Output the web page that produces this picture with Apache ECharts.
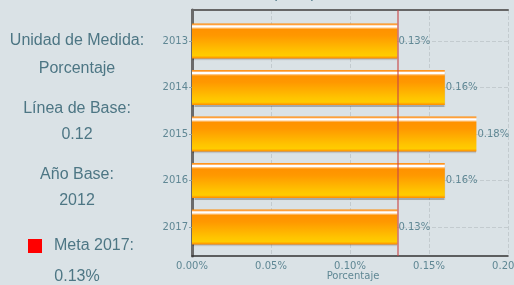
<!DOCTYPE html>
<html>
<head>
<meta charset="utf-8">
<script src="https://cdn.jsdelivr.net/npm/echarts@6/dist/echarts.min.js"></script>
<style>
  html, body { margin: 0; padding: 0; background: #dae2e6; }
  #chart { width: 514px; height: 285px; }
</style>
</head>
<body>
<div id="chart"></div>
<script>
// data
const years = ['2013', '2014', '2015', '2016', '2017'];
const values = [0.13, 0.16, 0.18, 0.16, 0.13];
const meta = 0.13;

const textColor = '#4d7684';
const axisText = '#5f8794';

const chart = echarts.init(document.getElementById('chart'));

const barColor = new echarts.graphic.LinearGradient(0, 0, 0, 1, [
  { offset: 0, color: '#ff8a00' },
  { offset: 0.04, color: '#ffa850' },
  { offset: 0.065, color: '#ffffff' },
  { offset: 0.1, color: '#ffffff' },
  { offset: 0.13, color: '#ffc27a' },
  { offset: 0.17, color: '#ff9200' },
  { offset: 0.35, color: '#ff9800' },
  { offset: 0.8, color: '#ffc400' },
  { offset: 0.92, color: '#ffcc00' },
  { offset: 0.97, color: '#ffa000' },
  { offset: 1, color: '#ff8c00' }
]);

function leftText(text, y, x, align) {
  return {
    type: 'text',
    style: {
      text: text, x: x == null ? 77 : x, y: y,
      fill: textColor,
      font: '16px "Liberation Sans", Arial, sans-serif',
      textAlign: align || 'center',
      textVerticalAlign: 'middle'
    }
  };
}

const options = {
  backgroundColor: '#dae2e6',
  animation: false,
  textStyle: { fontFamily: '"DejaVu Sans", sans-serif' },
  grid: [
    { left: 192, right: 6, top: 10, bottom: 29, outerBoundsMode: 'none', containLabel: false },
    { left: 192, right: 6, top: 17.75, bottom: 34.75, outerBoundsMode: 'none', containLabel: false }
  ],
  xAxis: [
    {
      gridIndex: 0, type: 'value', min: 0, max: 0.2, interval: 0.05,
      axisLine: { show: true, lineStyle: { color: '#333', width: 1.5 } },
      axisTick: { show: false },
      axisLabel: {
        color: axisText, fontSize: 10, margin: 5,
        formatter: v => v.toFixed(2) + '%'
      },
      splitLine: { show: true, lineStyle: { color: '#c3cbcf', type: 'dashed' } }
    },
    {
      gridIndex: 0, type: 'value', min: 0, max: 0.2, position: 'top',
      axisLine: { show: true, lineStyle: { color: '#666', width: 2 } },
      axisTick: { show: false }, axisLabel: { show: false }, splitLine: { show: false }
    },
    {
      gridIndex: 1, type: 'value', min: 0, max: 0.2, show: false
    }
  ],
  yAxis: [
    {
      gridIndex: 0, type: 'category', data: [''],
      axisLine: { show: true, lineStyle: { color: '#6b6b6b', width: 3 } },
      axisTick: { show: false }, axisLabel: { show: false }
    },
    {
      gridIndex: 1, type: 'category', data: years, inverse: true,
      axisLine: { show: false },
      axisTick: { show: true, alignWithLabel: true, length: 3, lineStyle: { color: '#8aa0a8' } },
      axisLabel: { color: axisText, fontSize: 10, margin: 4 },
      splitLine: { show: true, alignWithLabel: true, lineStyle: { color: '#c3cbcf', type: 'dashed' } }
    }
  ],
  series: [
    {
      type: 'line', xAxisIndex: 0, yAxisIndex: 0, data: [],
      markLine: {
        silent: true, symbol: 'none', label: { show: false },
        lineStyle: { color: 'rgba(200,70,70,0.75)', width: 1.5, type: 'solid' },
        data: [{ xAxis: meta }]
      }
    },
    {
      type: 'bar', xAxisIndex: 2, yAxisIndex: 1, data: values, barWidth: 35,
      itemStyle: {
        color: barColor,
        shadowColor: 'rgba(0,0,0,0.25)', shadowOffsetY: 1.5, shadowBlur: 1
      },
      label: {
        show: true, position: 'right', distance: 1,
        color: axisText, fontSize: 10,
        formatter: p => p.value.toFixed(2) + '%'
      },
      z: 3
    }
  ],
  graphic: [
    leftText('Unidad de Medida:', 41),
    leftText('Porcentaje', 68.5),
    leftText('Línea de Base:', 109),
    leftText('0.12', 134.5),
    leftText('Año Base:', 175),
    leftText('2012', 201),
    { type: 'rect', shape: { x: 28, y: 239, width: 14, height: 14 }, style: { fill: '#ff0000' } },
    leftText('Meta 2017:', 246, 54, 'left'),
    leftText('0.13%', 277),
    {
      type: 'text',
      style: {
        text: 'Porcentaje', x: 353, y: 276, fill: axisText,
        font: '10px "DejaVu Sans", sans-serif',
        textAlign: 'center', textVerticalAlign: 'middle'
      }
    },
    {
      type: 'text',
      style: {
        text: '(2017)', x: 294, y: -6, fill: textColor,
        font: '15px "Liberation Sans", Arial, sans-serif',
        textAlign: 'center', textVerticalAlign: 'middle'
      }
    }
  ]
};

chart.setOption(options);
</script>
</body>
</html>
